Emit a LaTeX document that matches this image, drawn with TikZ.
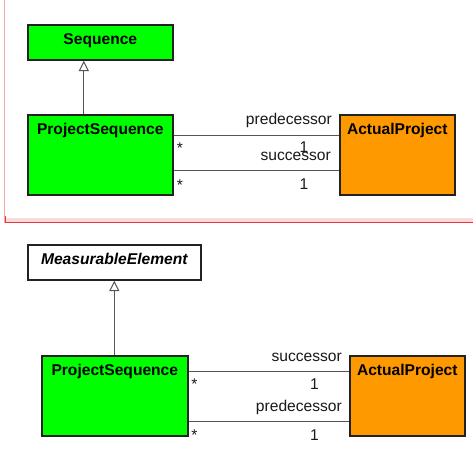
\documentclass[tikz,border=0pt]{standalone}
\usepackage{fontspec}
\setmainfont{Liberation Sans}
\usetikzlibrary{arrows.meta}
\definecolor{umlgreen}{HTML}{00FF00}
\definecolor{umlorange}{HTML}{FF9900}
\definecolor{boxline}{HTML}{222222}
\definecolor{conline}{HTML}{555555}
\definecolor{framepink}{HTML}{F2A8A8}
\definecolor{bandpink}{HTML}{FADADA}
\definecolor{framered}{HTML}{E0383C}
\begin{document}
\begin{tikzpicture}[x=1pt,y=-1pt,
  every node/.style={font=\fontsize{15.6}{18}\selectfont},
  umlbox/.style={draw=boxline, line width=1.6pt, inner sep=0pt, anchor=north west,
    text height=19.3pt, font=\fontsize{15.6}{18}\selectfont\bfseries},
  conn/.style={draw=conline, line width=1pt},
  inh/.style={draw=conline, line width=1pt, -{Triangle[open, length=10.5pt, width=10pt, fill=white]}},
  lbl/.style={inner sep=0pt, text=black!90}
]
\useasboundingbox[fill=white] (0,0) rectangle (473,467);

% frame of the upper part
\fill[bandpink] (5,218) rectangle (473,222);
\draw[framepink, line width=1pt] (4.5,0) -- (4.5,223);
\draw[framered, line width=1pt] (5,222.5) -- (473,222.5);
\draw[framered, line width=1pt] (5.5,216) -- (5.5,223);

% ---------- upper diagram ----------
\node[umlbox, fill=umlgreen, minimum width=145pt, minimum height=35pt, text depth=15.7pt] (seq) at (27,24) {Sequence};
\node[umlbox, fill=umlgreen, minimum width=145pt, minimum height=80pt, text depth=60.7pt] (ps) at (27,114) {ProjectSequence};
\node[umlbox, fill=umlorange, minimum width=115pt, minimum height=80pt, text depth=60.7pt] (ap) at (339,114) {ActualProject};

\draw[inh] ([xshift=-16.5pt]ps.north) -- ([xshift=-16.5pt]seq.south);
\draw[conn] ([yshift=-21pt]ps.north east) -- ([yshift=-21pt]ap.north west);
\draw[conn] ([yshift=-56pt]ps.north east) -- ([yshift=-56pt]ap.north west);

\node[lbl, anchor=base east] (l1) at (332,124.5) {predecessor};
\node[lbl, anchor=base] (l2) at (304,152) {1};
\node[lbl, anchor=base east] (l3) at (331,160.5) {successor};
\node[lbl, anchor=base] (l4) at (180,153) {*};
\node[lbl, anchor=base] (l5) at (180,190) {*};
\node[lbl, anchor=base] (l6) at (304,189) {1};

% ---------- lower diagram ----------
\node[umlbox, fill=white, minimum width=173pt, minimum height=35pt, text depth=15.7pt,
  font=\fontsize{15.6}{18}\selectfont\bfseries\itshape] (me) at (27,244) {MeasurableElement};
\node[umlbox, fill=umlgreen, minimum width=146pt, minimum height=80pt, text depth=60.7pt] (ps2) at (41,355) {ProjectSequence};
\node[umlbox, fill=umlorange, minimum width=115pt, minimum height=80pt, text depth=60.7pt] (ap2) at (349,355) {ActualProject};

\draw[inh] ([xshift=-0.5pt]ps2.north) -- ([xshift=-0.5pt]ps2.north |- me.south);
\draw[conn] ([yshift=-16pt]ps2.north east) -- ([yshift=-16pt]ap2.north west);
\draw[conn] ([yshift=-66pt]ps2.north east) -- ([yshift=-66pt]ap2.north west);

\node[lbl, anchor=base east] (m1) at (342,361.7) {successor};
\node[lbl, anchor=base] (m2) at (314.5,389) {1};
\node[lbl, anchor=base east] (m3) at (342,411.7) {predecessor};
\node[lbl, anchor=base] (m4) at (314.5,440) {1};
\node[lbl, anchor=base] (m5) at (194.5,389) {*};
\node[lbl, anchor=base] (m6) at (194.5,440) {*};
\end{tikzpicture}
\end{document}
